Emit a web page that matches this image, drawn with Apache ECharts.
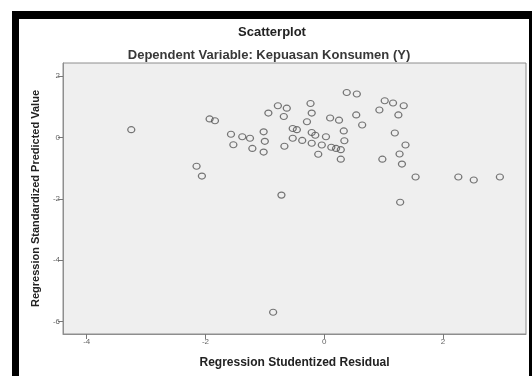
<!DOCTYPE html>
<html>
<head>
<meta charset="utf-8">
<script src="https://cdn.jsdelivr.net/npm/echarts@6/dist/echarts.min.js"></script>
<style>
    html, body { margin: 0; padding: 0; background: #fff; }
    #frame {
        position: absolute; left: 12px; top: 11px; width: 510px; height: 380px;
        border-top: 8px solid #000; border-left: 7px solid #000; border-right: 3px solid #000;
    }
    #chart { position: absolute; left: 0; top: 0; width: 532px; height: 376px; }
</style>
</head>
<body>
<div id="frame"></div>
<div id="chart"></div>
<script>
// residual (x) vs predicted value (y)
const residual = [
    -3.25, -1.93, -1.84, -2.15, -2.06, -1.57, -1.53, -1.38, -1.25, -1.21,
    -1.02, -1.0, -1.02, -0.94, -0.78, -0.63, -0.68, -0.53, -0.53, -0.67,
    -0.72, -0.86, -0.46, -0.23, -0.21, -0.29, -0.37, -0.21, -0.15, -0.21,
    -0.04, -0.1, 0.03, 0.1, 0.25, 0.12, 0.2, 0.28, 0.28, 0.33,
    0.34, 0.38, 0.55, 0.54, 0.64, 0.93, 1.02, 1.16, 1.34, 1.25,
    1.19, 1.37, 1.27, 1.31, 0.98, 1.54, 1.28, 2.26, 2.52, 2.96
]
const predicted = [
    0.25, 0.6, 0.54, -0.94, -1.26, 0.1, -0.24, 0.02, -0.03, -0.36,
    0.18, -0.13, -0.48, 0.79, 1.03, 0.95, 0.68, 0.29, -0.03, -0.29,
    -1.88, -5.69, 0.25, 1.1, 0.79, 0.51, -0.1, 0.16, 0.07, -0.19,
    -0.25, -0.55, 0.02, 0.63, 0.56, -0.32, -0.36, -0.4, -0.71, 0.21,
    -0.11, 1.46, 1.41, 0.73, 0.4, 0.89, 1.19, 1.12, 1.03, 0.73,
    0.14, -0.25, -0.54, -0.87, -0.71, -1.29, -2.11, -1.29, -1.39, -1.29
]
const xTicks = [-4, -2, 0, 2]
const yTicks = [2, 0, -2, -4, -6]

const chart = echarts.init(document.getElementById('chart'))
const points = residual.map((x, i) => [x, predicted[i]])
const font = 'Liberation Sans, Arial, sans-serif'

chart.setOption({
    backgroundColor: 'transparent',
    animation: false,
    textStyle: { fontFamily: font },
    grid: {
        left: 63,
        top: 63,
        width: 463,
        height: 271,
        show: true,
        backgroundColor: '#efefef',
        borderColor: '#8e8e8e',
        borderWidth: 1
    },
    graphic: [
        {
            type: 'text',
            x: 272,
            y: 32,
            style: {
                text: 'Scatterplot',
                font: 'bold 13px ' + font,
                fill: '#222',
                align: 'center',
                verticalAlign: 'middle'
            }
        },
        {
            type: 'text',
            x: 269,
            y: 55,
            style: {
                text: 'Dependent Variable: Kepuasan Konsumen (Y)',
                font: 'bold 13px ' + font,
                fill: '#383838',
                align: 'center',
                verticalAlign: 'middle'
            }
        }
    ],
    xAxis: {
        type: 'value',
        min: -4.4,
        max: 3.4,
        name: 'Regression Studentized Residual',
        nameLocation: 'middle',
        nameGap: 23,
        nameTextStyle: { fontSize: 12, fontWeight: 'bold', color: '#222' },
        splitLine: { show: false },
        axisLine: { show: true, onZero: false, lineStyle: { color: '#8e8e8e' } },
        axisTick: { show: true, length: 5, customValues: xTicks, lineStyle: { color: '#777' } },
        axisLabel: { customValues: xTicks, fontSize: 8, color: '#666', margin: 4 }
    },
    yAxis: {
        type: 'value',
        min: -6.4,
        max: 2.42,
        name: 'Regression Standardized Predicted Value',
        nameLocation: 'middle',
        nameGap: 22,
        nameRotate: 90,
        nameTextStyle: { fontSize: 11, fontWeight: 'bold', color: '#222' },
        splitLine: { show: false },
        axisLine: { show: true, onZero: false, lineStyle: { color: '#8e8e8e' } },
        axisTick: { show: true, length: 5, customValues: yTicks, lineStyle: { color: '#777' } },
        axisLabel: { customValues: yTicks, fontSize: 8, color: '#666', margin: 3 }
    },
    series: [
        {
            type: 'scatter',
            data: points,
            symbol: 'circle',
            symbolSize: [7, 6],
            itemStyle: {
                color: 'rgba(0,0,0,0)',
                borderColor: '#555',
                borderWidth: 1.2
            }
        }
    ]
})
</script>
</body>
</html>
